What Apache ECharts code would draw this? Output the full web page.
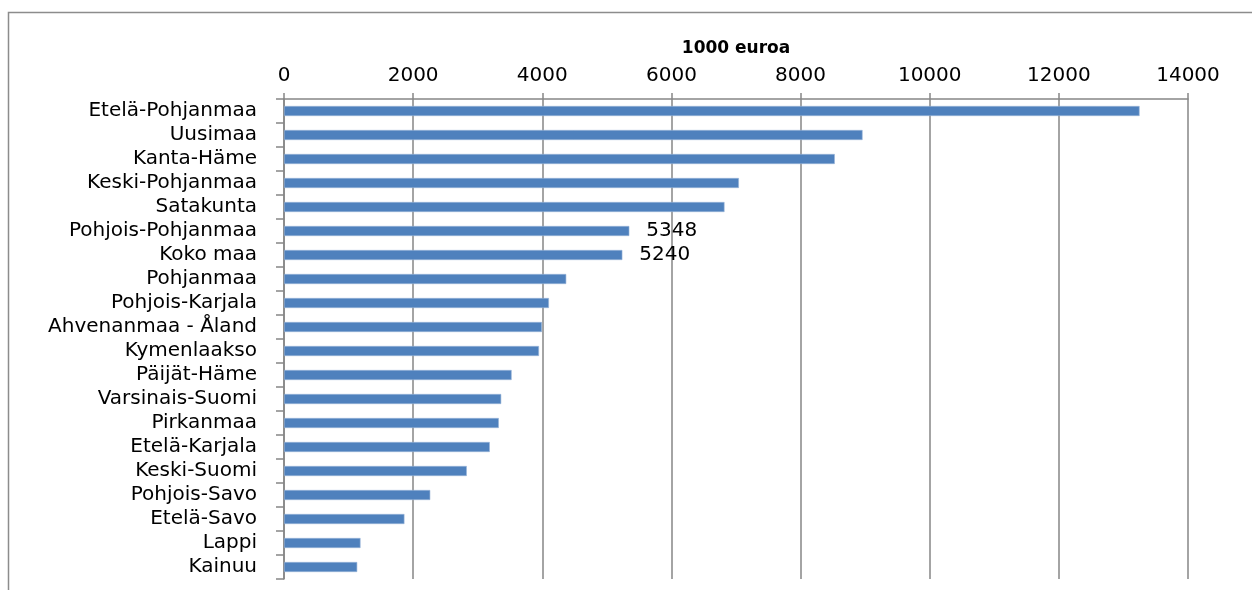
<!DOCTYPE html>
<html>
<head>
<meta charset="utf-8">
<script src="https://cdn.jsdelivr.net/npm/echarts@6/dist/echarts.min.js"></script>
<style>
html,body{margin:0;padding:0;background:#fff;}
#chart{width:1252px;height:590px;}
</style>
</head>
<body>
<div id="chart"></div>
<script>
const categories = ["Etelä-Pohjanmaa","Uusimaa","Kanta-Häme","Keski-Pohjanmaa","Satakunta","Pohjois-Pohjanmaa","Koko maa","Pohjanmaa","Pohjois-Karjala","Ahvenanmaa - Åland","Kymenlaakso","Päijät-Häme","Varsinais-Suomi","Pirkanmaa","Etelä-Karjala","Keski-Suomi","Pohjois-Savo","Etelä-Savo","Lappi","Kainuu"];
const values = [13250, 8960, 8530, 7045, 6822, 5348, 5240, 4371, 4103, 3995, 3949, 3525, 3364, 3327, 3187, 2831, 2265, 1865, 1185, 1134];
const labelledCategories = ["Pohjois-Pohjanmaa","Koko maa"];
const axisName = "1000 euroa";
const xMin = 0, xMax = 14000, xStep = 2000;

const chart = echarts.init(document.getElementById('chart'));
const font = "DejaVu Sans";
chart.setOption({
  animation: false,
  backgroundColor: '#ffffff',
  graphic: [{
    type: 'rect', silent: true, z: -1,
    shape: {x: 8.5, y: 12.5, width: 1400, height: 800},
    style: {fill: 'none', stroke: '#8c8c8c', lineWidth: 1.5}
  }],
  grid: {left: 284, right: 64, top: 99, bottom: 11, containLabel: false},
  xAxis: {
    type: 'value', position: 'top', min: xMin, max: xMax, interval: xStep,
    name: axisName, nameLocation: 'middle', nameGap: 42,
    nameTextStyle: {fontFamily: font, fontSize: 17, fontWeight: 'bold', color: '#000'},
    axisLine: {show: true, lineStyle: {color: '#868686', width: 1.5}},
    axisTick: {show: true, length: 6, lineStyle: {color: '#868686', width: 1.5}},
    axisLabel: {fontFamily: font, fontSize: 20, color: '#000', margin: 13,
      formatter: v => String(v)},
    splitLine: {show: true, lineStyle: {color: '#868686', width: 1.5}}
  },
  yAxis: {
    type: 'category', inverse: true, data: categories,
    axisLine: {show: true, lineStyle: {color: '#868686', width: 1.5}},
    axisTick: {show: true, length: 8, interval: 0, alignWithLabel: false, lineStyle: {color: '#868686', width: 1.5}},
    axisLabel: {fontFamily: font, fontSize: 20, color: '#000', margin: 27, interval: 0},
    splitLine: {show: false}
  },
  series: [{
    type: 'bar', barWidth: 10,
    itemStyle: {color: '#4F81BD', borderColor: '#9bb5d8', borderWidth: 0.6},
    data: values.map((v, i) => ({
      value: v,
      label: {show: labelledCategories.includes(categories[i])}
    })),
    label: {position: 'right', distance: 17, fontFamily: font, fontSize: 20, color: '#000',
      formatter: p => String(p.value)}
  }]
});
</script>
</body>
</html>
